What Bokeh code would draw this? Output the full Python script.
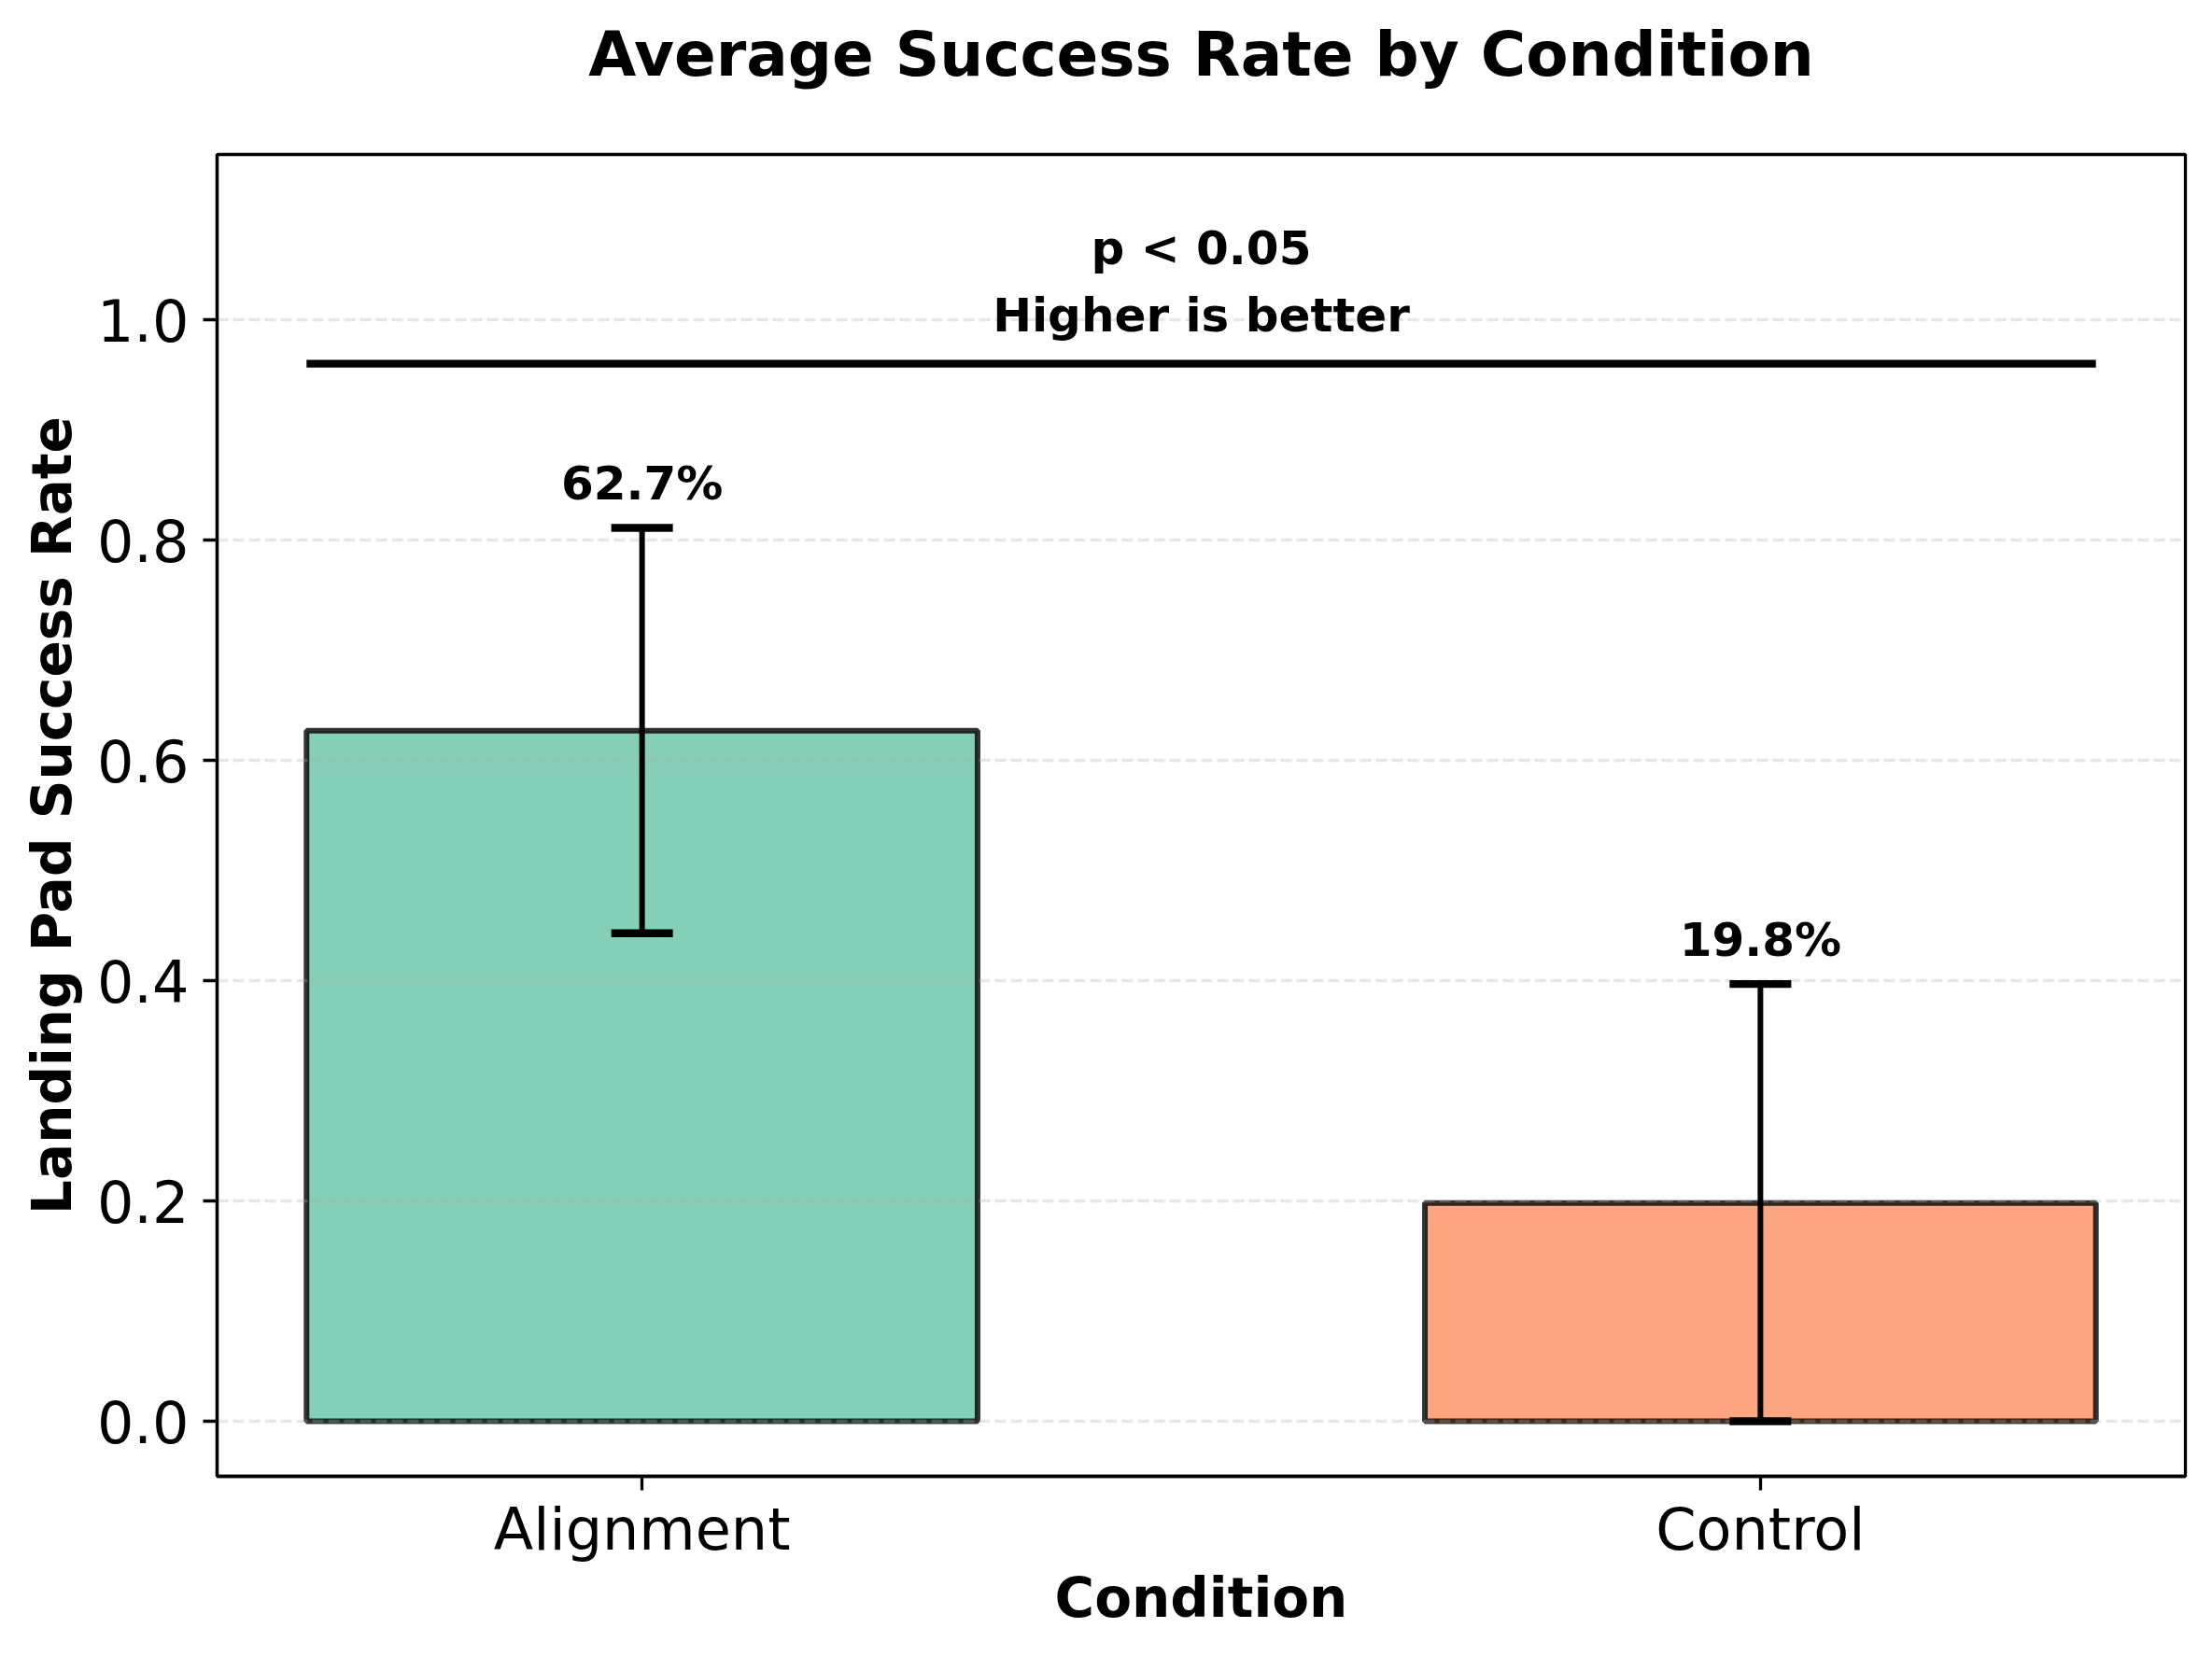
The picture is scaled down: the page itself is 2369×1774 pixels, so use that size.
import numpy as np
from bokeh.plotting import figure
from bokeh.models import (ColumnDataSource, Whisker, TeeHead, FixedTicker, Range1d,
                          PrintfTickFormatter, LinearAxis)
from bokeh.core.properties import value
from bokeh.embed import file_html
from bokeh.resources import INLINE

# ---------------- data ----------------
categories = ["Alignment", "Control"]
success_rate = [0.627, 0.198]
err_lower = [0.184, 0.198]
err_upper = [0.184, 0.199]
bar_colors = ["#66c2a5", "#fc8d62"]
value_labels = ["62.7%", "19.8%"]
y_ticks = [0.0, 0.2, 0.4, 0.6, 0.8, 1.0]
sig_y = 0.96
note_lines = ["p < 0.05", "Higher is better"]
note_y = [1.065, 1.004]
title_text = "Average Success Rate by Condition"
x_label = "Condition"
y_label = "Landing Pad Success Rate"

# ---------------- style ----------------
FONT = "DejaVu Sans"
BAR_W = 0.6
LABEL_OFFSET = 0.04
X_START, X_END = -0.38, 1.38
Y_START, Y_END = -0.05, 1.15

x = list(range(len(categories)))
src = ColumnDataSource(dict(
    x=x,
    top=success_rate,
    color=bar_colors,
    lower=[m - e for m, e in zip(success_rate, err_lower)],
    upper=[m + e for m, e in zip(success_rate, err_upper)],
    label=value_labels,
    label_y=[m + e + LABEL_OFFSET for m, e in zip(success_rate, err_upper)],
))

p = figure(width=2353, height=1758, output_backend="svg", toolbar_location=None,
           x_range=Range1d(X_START, X_END), y_range=Range1d(Y_START, Y_END),
           min_border_left=232, min_border_right=13, min_border_top=165,
           min_border_bottom=177, background_fill_color="white",
           border_fill_color="white")

# title: drawn as the label of a bare axis above the frame
title_axis = LinearAxis(ticker=FixedTicker(ticks=[]), axis_label=title_text,
                        axis_line_color=None, major_tick_line_color=None,
                        minor_tick_line_color=None, major_tick_out=0,
                        major_tick_in=0,
                        axis_label_text_font=FONT, axis_label_text_font_size="66px",
                        axis_label_text_font_style="bold",
                        axis_label_text_color="black", axis_label_standoff=69)
p.add_layout(title_axis, "above")

# bars (below grid)
bars = p.vbar(x="x", top="top", bottom=0, width=BAR_W, source=src,
              fill_color="color", fill_alpha=0.8, line_color="black",
              line_alpha=0.8, line_width=6)
bars.level = "image"

# error bars
wh = Whisker(base="x", upper="upper", lower="lower", source=src,
             dimension="height", line_color="black", line_width=6,
             upper_head=TeeHead(size=66, line_color="black", line_width=8.3),
             lower_head=TeeHead(size=66, line_color="black", line_width=8.3))
wh.level = "glyph"
p.add_layout(wh)

# value labels
p.text(x="x", y="label_y", text="label", source=src, text_align="center",
       text_baseline="alphabetic", text_font=value(FONT), text_font_size="50px",
       text_font_style="bold", text_color="black")

# significance line
p.line(x=[x[0] - BAR_W / 2, x[-1] + BAR_W / 2], y=[sig_y, sig_y],
       line_color="black", line_width=8.3)

# note text
p.text(x=[(x[0] + x[-1]) / 2] * len(note_lines), y=note_y, text=note_lines,
       text_align="center", text_baseline="alphabetic", text_font=value(FONT),
       text_font_size="50px", text_font_style="bold", text_color="black")

# axes
xax = p.below[0]
yax = p.left[0]
xax.ticker = FixedTicker(ticks=x)
xax.major_label_overrides = {i: c for i, c in zip(x, categories)}
yax.ticker = FixedTicker(ticks=y_ticks)
yax.formatter = PrintfTickFormatter(format="%.1f")

for ax in (xax, yax):
    ax.axis_line_width = 3.3
    ax.axis_line_color = "black"
    ax.major_tick_line_width = 3.3
    ax.major_tick_line_color = "black"
    ax.major_tick_out = 15
    ax.major_tick_in = 0
    ax.minor_tick_line_color = None
    ax.major_label_text_font = FONT
    ax.major_label_text_font_size = "62px"
    ax.major_label_text_color = "black"
    ax.axis_label_text_font = FONT
    ax.axis_label_text_font_size = "58px"
    ax.axis_label_text_font_style = "bold"
    ax.axis_label_text_color = "black"

xax.axis_label = x_label
yax.axis_label = y_label
xax.major_label_standoff = 5
yax.major_label_standoff = 15
xax.axis_label_standoff = 0
yax.axis_label_standoff = 11

p.outline_line_color = "black"
p.outline_line_width = 3.3
p.outline_line_alpha = 1.0

p.xgrid.grid_line_color = None
p.ygrid.ticker = FixedTicker(ticks=y_ticks)
p.ygrid.grid_line_color = "#b0b0b0"
p.ygrid.grid_line_alpha = 0.3
p.ygrid.grid_line_width = 3.3
p.ygrid.grid_line_dash = "12 5"
p.ygrid.level = "underlay"

open("out.html", "w").write(file_html(p, INLINE))
